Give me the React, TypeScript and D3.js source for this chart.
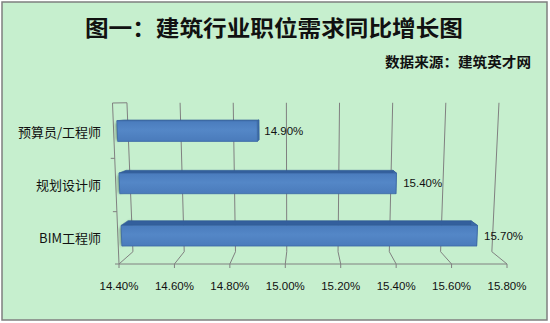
import React from 'react';
import * as d3 from 'd3';

const categories = ['预算员/工程师', '规划设计师', 'BIM工程师'];
const values = [14.9, 15.4, 15.7];
const tickValues = [14.4, 14.6, 14.8, 15.0, 15.2, 15.4, 15.6, 15.8];
const titleText = '图一：建筑行业职位需求同比增长图';
const sourceText = '数据来源：建筑英才网';

const W = 550;
const H = 323;
const VP = { x: 305, y: 100 };
const DEPTH = 0.075;
const plotTop = 103;
const plotBottom = 264;
const domain: [number, number] = [14.4, 15.8];

const leftEdge = d3.scaleLinear().domain([plotBottom, plotTop]).range([119, 112.5]);
const rightEdge = d3.scaleLinear().domain([plotBottom, plotTop]).range([507, 514.7]);
const yBand = d3.scaleBand<string>().domain(categories).range([105, 265]).padding(0);

function xAt(v: number, h: number) {
  const s = d3.scaleLinear().domain(domain).range([leftEdge(h), rightEdge(h)]);
  return s(v);
}
function proj(v: number, h: number, d: number): [number, number] {
  const fx = xAt(v, h);
  const k = d * DEPTH;
  return [fx + k * (VP.x - fx), h + k * (VP.y - h)];
}
const poly = (pts: [number, number][]) => 'M' + pts.map(p => p[0].toFixed(2) + ',' + p[1].toFixed(2)).join('L') + 'Z';
const line = d3.line<[number, number]>();

const fmt = (v: number) => d3.format('.2f')(v) + '%';

export default function App() {
  const bw = yBand.bandwidth();
  const barHalf = 10.5;
  const dF = 0.25;
  const dB = 0.75;
  const gridColor = '#808080';
  const labelFont = '"Liberation Sans", Arial, sans-serif';
  const cjkFont = '"Noto Sans CJK SC", sans-serif';

  return (
    <svg width={W} height={H} style={{ position: 'absolute', left: 0, top: 0, display: 'block' }}>
      <defs>
        <linearGradient id="barFront" x1="0" y1="0" x2="0" y2="1">
          <stop offset="0%" stopColor="#4a7cbd" />
          <stop offset="45%" stopColor="#5487c7" />
          <stop offset="100%" stopColor="#4a7bbb" />
        </linearGradient>
        <filter id="blur" x="-50%" y="-50%" width="200%" height="200%">
          <feGaussianBlur stdDeviation="1.8" />
        </filter>
      </defs>
      <rect x={0} y={0} width={W} height={H} fill="#ffffff" />
      <rect x={2} y={2} width={545} height={318} fill="#c6efce" stroke="#7f7f7f" strokeWidth={1.5} />

      <text x={85} y={36} fontFamily={cjkFont} fontWeight="bold" fontSize={22} fill="#111" textLength={378} lengthAdjust="spacingAndGlyphs">
        {titleText}
      </text>
      <text x={385} y={67} fontFamily={cjkFont} fontWeight="bold" fontSize={13.5} fill="#111" textLength={146} lengthAdjust="spacingAndGlyphs">
        {sourceText}
      </text>

      {/* left side wall */}
      <path d={line([proj(14.4, plotTop, 0), proj(14.4, plotBottom, 0)]) || ''} stroke={gridColor} fill="none" />
      <path d={line([proj(14.4, plotTop, 0), proj(14.4, plotTop, 1)]) || ''} stroke={gridColor} fill="none" />

      {/* gridlines on back wall and floor */}
      {tickValues.map(v => (
        <path key={'g' + v}
          d={line([proj(v, plotTop, 1), proj(v, plotBottom, 1), proj(v, plotBottom, 0)]) || ''}
          stroke={gridColor} strokeWidth={1} fill="none" />
      ))}

      {/* front axis line and ticks */}
      <path d={line([[xAt(14.4, plotBottom) - 4, plotBottom], [xAt(15.8, plotBottom), plotBottom]]) || ''} stroke={gridColor} fill="none" />
      {tickValues.map(v => (
        <path key={'t' + v} d={line([[xAt(v, plotBottom), plotBottom], [xAt(v, plotBottom), plotBottom + 4]]) || ''} stroke={gridColor} fill="none" />
      ))}
      {categories.slice(1).map(c => {
        const h = yBand(c)!;
        const x = xAt(14.4, h);
        return <path key={'ct' + c} d={line([[x - 4, h], [x, h]]) || ''} stroke={gridColor} fill="none" />;
      })}

      {/* shadows on left wall */}
      {categories.map(c => {
        const mid = yBand(c)! + bw / 2;
        const h0 = mid - barHalf;
        const h1 = mid + barHalf;
        return (
          <path key={'s' + c} filter="url(#blur)" fill="#3f5a44" opacity={0.6}
            d={poly([proj(14.4, h0 + 2, 0.15), proj(14.4, h0 + 2, 1), proj(14.4, h1 - 1, 1), proj(14.4, h1 - 1, 0.15)])} />
        );
      })}

      {/* bars */}
      {categories.map((c, i) => {
        const v = values[i];
        const mid = yBand(c)! + bw / 2;
        const h0 = mid - barHalf;
        const h1 = mid + barHalf;
        const top = poly([proj(14.4, h0, dF), proj(v, h0, dF), proj(v, h0, dB), proj(14.4, h0, dB)]);
        const end = poly([proj(v, h0, dF), proj(v, h0, dB), proj(v, h1, dB), proj(v, h1, dF)]);
        const front = poly([proj(14.4, h0, dF), proj(v, h0, dF), proj(v, h1, dF), proj(14.4, h1, dF)]);
        const endPt = proj(v, mid, dF);
        return (
          <g key={'b' + c}>
            <path d={top} fill="#335f9c" stroke="#2f5a94" strokeWidth={0.6} />
            <path d={end} fill="#3c6aa8" stroke="#2f5a94" strokeWidth={0.6} />
            <path d={front} fill="url(#barFront)" stroke="#3b68a4" strokeWidth={0.8} />
            <text x={endPt[0] + 7} y={endPt[1]} dy="0.35em" fontFamily={labelFont} fontSize={11.5} fill="#111">
              {fmt(v)}
            </text>
          </g>
        );
      })}

      {/* category labels */}
      {categories.map(c => (
        <text key={'cl' + c} x={101} y={yBand(c)! + bw / 2} dy="0.38em" textAnchor="end" fontFamily={cjkFont} fontSize={13} fill="#111">
          {c}
        </text>
      ))}

      {/* value axis labels */}
      {tickValues.map(v => (
        <text key={'tl' + v} x={xAt(v, plotBottom)} y={286} dy="0.35em" textAnchor="middle" fontFamily={labelFont} fontSize={11.5} fill="#111">
          {fmt(v)}
        </text>
      ))}
    </svg>
  );
}
